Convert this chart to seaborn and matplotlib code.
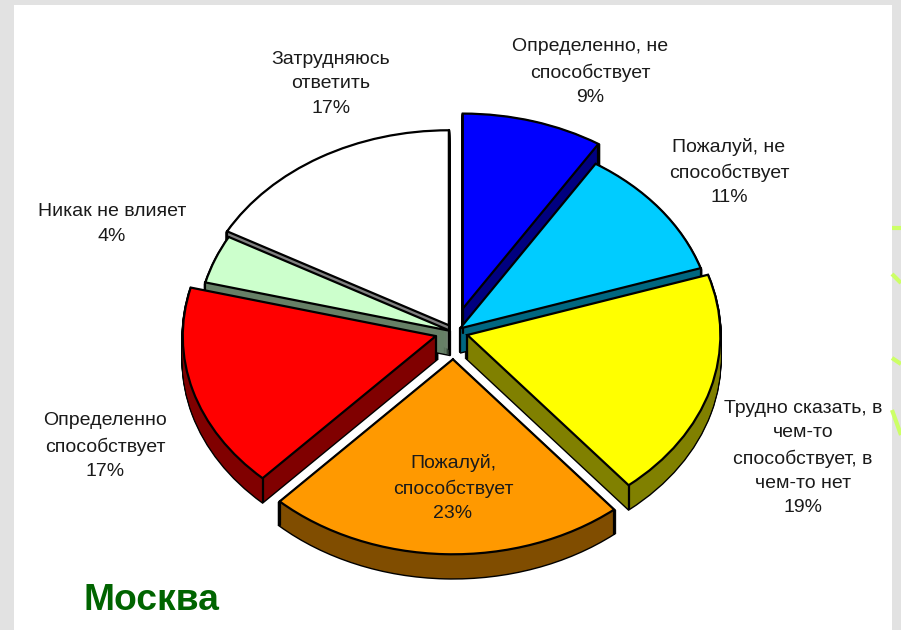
import numpy as np
import matplotlib

matplotlib.use("Agg")

import matplotlib.pyplot as plt
import seaborn as sns
from matplotlib.patches import Rectangle

# values, clockwise from 12 o'clock
categories = [
    "Определенно, не\nспособствует",
    "Пожалуй, не\nспособствует",
    "Трудно сказать, в\nчем-то\nспособствует, в\nчем-то нет",
    "Пожалуй,\nспособствует",
    "Определенно\nспособствует",
    "Никак не влияет",
    "Затрудняюсь\nответить",
]
values = [9, 11, 19, 23, 17, 4, 17]
explode = [0.125, 0.03, 0.055, 0.14, 0.075, 0.015, 0.04]
top_colors = ["#0000FF", "#00CCFF", "#FFFF00", "#FF9900", "#FF0000", "#CCFFCC", "#FFFFFF"]
side_colors = ["#000080", "#006680", "#808000", "#804D00", "#800000", "#668066", "#808080"]
label_pos = [(590, 72), (729, 172), (803, 458), (453, 488), (105, 446), (112, 224), (331, 84)]

W, H = 901, 630
CX, CY = 454, 332
RX, RY = 253, 195
DEPTH = 24


def dx(px):
    return (px - CX) / RX


def dy(py):
    return (CY - py) / RY


def draw_pie(ax, colors, offset, zorder, edge=None, lw=0.0):
    wedges, _ = ax.pie(
        values,
        explode=explode,
        colors=colors,
        startangle=90,
        counterclock=False,
        center=(0, -offset / RY),
        radius=1,
        wedgeprops={"edgecolor": edge if edge else "none", "linewidth": lw},
    )
    for wedge in wedges:
        wedge.set_zorder(zorder)
    return wedges


sns.set_theme(style="white")
plt.rcParams["font.family"] = ["Liberation Sans", "DejaVu Sans"]

fig = plt.figure(figsize=(W / 100, H / 100), dpi=100, facecolor="#E2E2E2")
ax = fig.add_axes([0, 0, 1, 1])

# side walls: black silhouette first, dark fill over it
for offset in range(DEPTH, 0, -1):
    draw_pie(ax, side_colors, offset, 2, edge="black", lw=2.0)
for offset in range(DEPTH, 0, -1):
    draw_pie(ax, side_colors, offset, 3)

top = draw_pie(ax, top_colors, 0, 5, edge="black", lw=1.6)

# vertical edges of the walls
for wedge in top:
    x0, y0 = wedge.center
    corners = [(x0, y0)]
    for angle in (wedge.theta1, wedge.theta2):
        corners.append((x0 + np.cos(np.radians(angle)), y0 + np.sin(np.radians(angle))))
    for x, y in corners:
        ax.plot([x, x], [y, y - DEPTH / RY], color="black", lw=1.6, zorder=4)

ax.set_aspect("auto")
ax.set_xlim(dx(0), dx(W))
ax.set_ylim(dy(H), dy(0))
ax.axis("on")
ax.set_xticks([])
ax.set_yticks([])
ax.set_facecolor("#E2E2E2")
for spine in ax.spines.values():
    spine.set_visible(False)

# white slide panel and the green curves at its right edge
ax.add_patch(Rectangle((dx(14), dy(630)), 878 / RX, 625 / RY, facecolor="white", edgecolor="none", zorder=0))
for xs, ys in [
    ([892, 901], [228, 228]),
    ([892, 901], [274, 283]),
    ([892, 901], [358, 364]),
    ([892, 901], [410, 435]),
]:
    ax.plot(dx(np.array(xs)), dy(np.array(ys)), color="#CCFF66", lw=3, zorder=1,
            solid_capstyle="butt")

for name, value, (x, y) in zip(categories, values, label_pos):
    ax.text(
        dx(x), dy(y), f"{name}\n{value}%",
        ha="center", va="center", fontsize=14, color="#1A1A1A",
        linespacing=1.55, zorder=6,
    )

ax.text(dx(84), dy(600), "Москва", ha="left", va="center", fontsize=26.8,
        fontweight="bold", color="#006400", zorder=6)

fig.savefig("out.png", dpi=100, facecolor=fig.get_facecolor())
